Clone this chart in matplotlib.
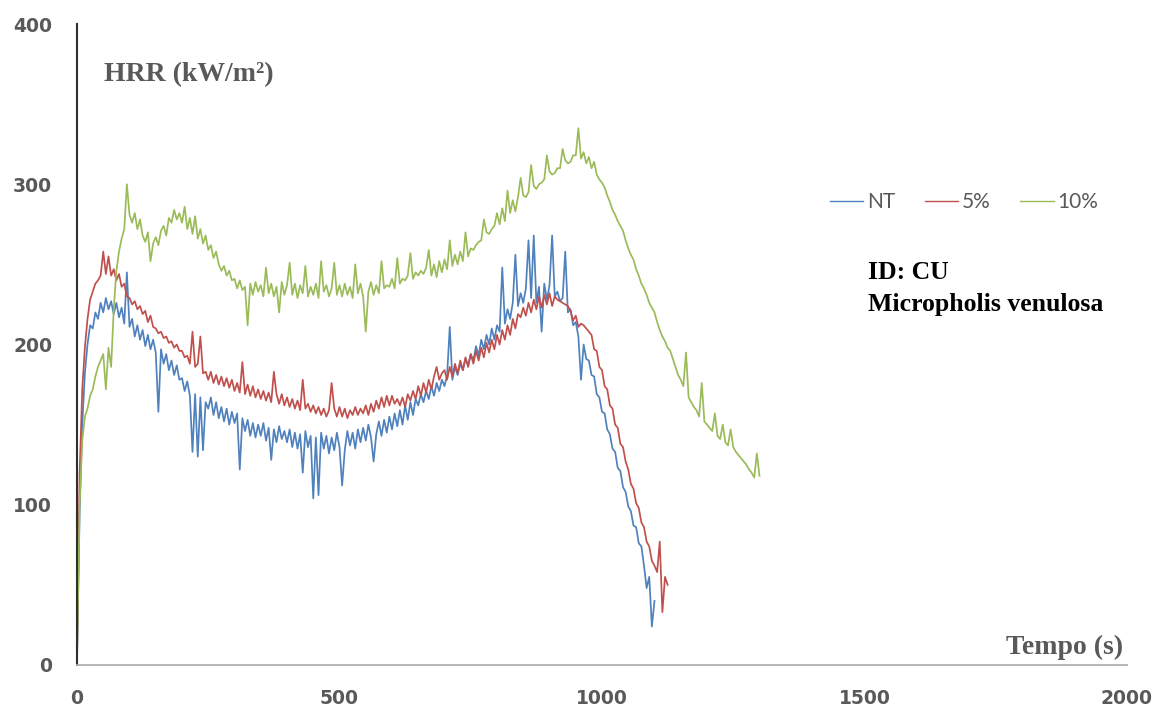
import numpy as np
import matplotlib
matplotlib.use("Agg")
import matplotlib.pyplot as plt

step_s = 5
series_names = ["NT", "5%", "10%"]
x_ticks = [0, 500, 1000, 1500, 2000]
y_ticks = [0, 100, 200, 300, 400]

hrr_nt = [
    2, 95, 150, 182, 200, 212, 210, 220, 216, 226,
    220, 229, 222, 227, 219, 226, 217, 223, 213, 245,
    211, 216, 205, 212, 203, 209, 199, 206, 197, 203,
    195, 158, 197, 188, 194, 184, 190, 181, 187, 178,
    179, 171, 177, 168, 133, 169, 130, 167, 134, 164,
    160, 167, 156, 164, 154, 161, 152, 160, 150, 158,
    151, 157, 122, 154, 146, 153, 143, 151, 142, 150,
    143, 151, 140, 148, 128, 147, 139, 149, 141, 146,
    139, 147, 136, 145, 135, 144, 120, 146, 136, 143,
    104, 142, 106, 145, 135, 143, 132, 142, 134, 145,
    136, 112, 134, 146, 137, 145, 135, 147, 139, 148,
    140, 150, 142, 127, 144, 152, 143, 153, 145, 155,
    147, 157, 149, 159, 150, 162, 153, 164, 156, 166,
    162, 169, 164, 171, 166, 174, 168, 176, 171, 178,
    174, 181, 211, 178, 186, 181, 188, 184, 191, 187,
    194, 190, 199, 193, 203, 197, 206, 200, 210, 203,
    212, 208, 248, 213, 222, 216, 226, 256, 224, 232,
    226, 235, 265, 229, 268, 226, 236, 208, 238, 228,
    237, 268, 230, 233, 227, 229, 258, 220, 222, 212,
    214, 205, 178, 200, 191, 190, 181, 180, 169, 167,
    158, 157, 147, 144, 135, 133, 123, 121, 111, 108,
    99, 96, 87, 86, 76, 74, 62, 48, 55, 24,
    40,
]

hrr_5 = [
    3, 120, 172, 198, 216, 228, 233, 238, 240, 243,
    258, 244, 255, 243, 247, 240, 244, 236, 238, 230,
    229, 225, 227, 222, 224, 219, 221, 214, 218, 211,
    210, 207, 208, 204, 205, 201, 202, 198, 200, 196,
    196, 192, 193, 188, 208, 186, 188, 205, 182, 183,
    178, 183, 176, 181, 175, 180, 174, 179, 173, 178,
    171, 176, 170, 189, 169, 175, 168, 174, 167, 172,
    166, 171, 165, 170, 164, 183, 169, 163, 169, 162,
    167, 161, 166, 160, 165, 159, 178, 160, 163, 158,
    162, 157, 161, 156, 160, 155, 159, 176, 160, 155,
    161, 155, 160, 154, 159, 156, 161, 156, 160, 157,
    162, 156, 163, 158, 165, 160, 167, 161, 168, 162,
    168, 163, 166, 162, 167, 161, 169, 165, 171, 166,
    174, 168, 176, 170, 178, 172, 180, 186, 178, 182,
    184, 178, 186, 180, 188, 182, 190, 184, 192, 186,
    194, 188, 196, 190, 198, 192, 201, 195, 203, 197,
    206, 200, 209, 203, 212, 206, 216, 210, 219, 217,
    223, 218, 226, 220, 228, 222, 230, 223, 231, 225,
    232, 224, 230, 228, 227, 226, 225, 224, 221, 215,
    218, 211, 213, 212, 210, 208, 206, 197, 196, 186,
    184, 174, 172, 162, 160, 150, 148, 138, 136, 127,
    122, 113, 110, 101, 98, 89, 86, 77, 74, 65,
    62, 58, 77, 33, 55, 50,
]

hrr_10 = [
    5, 100, 140, 155, 160, 168, 172, 180, 186, 190,
    194, 172, 198, 186, 222, 246, 258, 266, 272, 300,
    281, 276, 282, 272, 278, 268, 264, 270, 252, 263,
    267, 262, 271, 274, 268, 279, 276, 284, 278, 282,
    276, 286, 272, 279, 269, 280, 266, 272, 263, 268,
    259, 262, 254, 258, 250, 246, 249, 243, 246, 240,
    241, 235, 240, 234, 236, 212, 238, 231, 239, 233,
    237, 230, 248, 232, 238, 230, 236, 220, 239, 231,
    237, 251, 231, 238, 229, 237, 232, 249, 230, 236,
    231, 238, 229, 252, 233, 237, 230, 235, 251, 231,
    237, 230, 238, 231, 236, 229, 250, 232, 238, 230,
    208, 233, 239, 231, 237, 232, 252, 235, 237, 236,
    241, 235, 254, 238, 241, 240, 243, 257, 241, 245,
    243, 246, 244, 248, 259, 243, 250, 242, 252, 245,
    253, 247, 265, 249, 256, 250, 258, 252, 270, 255,
    260, 259, 262, 264, 265, 278, 270, 269, 272, 274,
    282, 275, 285, 277, 296, 282, 290, 283, 292, 304,
    293, 292, 295, 312, 299, 297, 300, 301, 303, 318,
    308, 306, 307, 310, 310, 322, 315, 313, 314, 318,
    318, 335, 316, 320, 313, 317, 310, 314, 306, 303,
    301, 298, 293, 289, 284, 281, 277, 274, 271, 265,
    260, 256, 253, 247, 243, 238, 235, 231, 226, 223,
    220, 214, 209, 205, 202, 198, 196, 191, 186, 181,
    178, 174, 195, 167, 164, 161, 159, 155, 176, 152,
    150, 148, 146, 157, 143, 141, 150, 139, 137, 147,
    136, 133, 131, 129, 127, 125, 122, 120, 117, 132,
    118,
]

colors = ["#4F81BD", "#C0504D", "#9BBB59"]

W, H = 1171, 709
fig = plt.figure(figsize=(W / 100, H / 100), dpi=100)
ax = fig.add_axes([77 / W, 44 / H, (1127 - 77) / W, (685 - 44) / H])

for name, vals, c in zip(series_names, [hrr_nt, hrr_5, hrr_10], colors):
    t = np.arange(len(vals)) * step_s
    ax.plot(t, vals, color=c, lw=1.25, label=name)

ax.set_xlim(0, 2000)
ax.set_ylim(0, 400)
ax.set_xticks(x_ticks)
ax.set_yticks(y_ticks)
for s in ["top", "right"]:
    ax.spines[s].set_visible(False)
ax.spines["left"].set_color("#303030")
ax.spines["left"].set_linewidth(1.5)
ax.spines["bottom"].set_color("#b0b0b0")
ax.spines["bottom"].set_linewidth(1.3)
ax.tick_params(axis="both", length=0, labelsize=13.5, labelcolor="#595959")
ax.tick_params(axis="y", pad=18)
ax.tick_params(axis="x", pad=17)
for lab in ax.get_xticklabels() + ax.get_yticklabels():
    lab.set_fontweight("bold")
    lab.set_family("DejaVu Sans")

serif = "Liberation Serif"
fig.text(104 / W, 1 - 75 / H, "HRR (kW/m²)", family=serif, fontweight="bold",
         fontsize=20, color="#595959", ha="left", va="center")
fig.text(1123 / W, 1 - 647 / H, "Tempo (s)", family=serif, fontweight="bold",
         fontsize=20, color="#595959", ha="right", va="center")
fig.text(868 / W, 1 - 272 / H, "ID: CU", family=serif, fontweight="bold",
         fontsize=18.5, color="black", ha="left", va="center")
fig.text(868 / W, 1 - 305 / H, "Micropholis venulosa", family=serif, fontweight="bold",
         fontsize=18.5, color="black", ha="left", va="center")

leg = ax.legend(loc="center left", bbox_to_anchor=(830 / W, 1 - 202 / H),
                bbox_transform=fig.transFigure, ncol=3, frameon=False,
                borderpad=0, borderaxespad=0, handlelength=1.6, handletextpad=0.2,
                columnspacing=1.4, prop={"family": "Lato", "size": 15})
for txt in leg.get_texts():
    txt.set_color("#595959")
for ln in leg.get_lines():
    ln.set_linewidth(1.0)

fig.savefig("out.png", dpi=100)
